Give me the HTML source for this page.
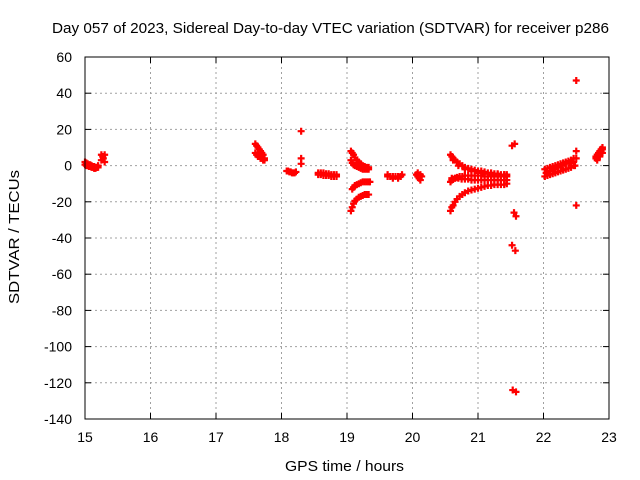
<!DOCTYPE html>
<html><head><meta charset="utf-8"><style>
body{margin:0;background:#fff}
svg{display:block;font-family:"Liberation Sans",sans-serif;font-size:14px}
</style></head><body>
<svg id="chart" width="640" height="480">
<text x="52" y="33" font-size="15" textLength="557" lengthAdjust="spacingAndGlyphs">Day 057 of 2023, Sidereal Day-to-day VTEC variation (SDTVAR) for receiver p286</text>
<text x="285" y="471" font-size="15" textLength="119" lengthAdjust="spacingAndGlyphs">GPS time / hours</text>
<text transform="translate(19,304) rotate(-90)" font-size="15" textLength="134" lengthAdjust="spacingAndGlyphs">SDTVAR / TECUs</text>
<g id="grid"></g><g id="ticks"></g><g id="marks"></g>
<rect x="85" y="57" width="524" height="362" fill="none" stroke="#000" stroke-width="1"/>
</svg>
<script>
const xTicks=[15,16,17,18,19,20,21,22,23];
const yTicks=[60,40,20,0,-20,-40,-60,-80,-100,-120,-140];
const times=[
15.00,15.02,15.04,15.06,15.08,15.10,15.12,15.14,15.16,15.18,15.20,
15.00,15.02,15.04,15.06,15.08,15.10,15.12,15.14,15.16,15.18,15.20,
15.25,15.25,15.27,15.30,15.30,15.28,
17.60,17.62,17.64,17.66,17.68,17.70,17.72,17.74,
17.60,17.62,17.64,17.66,17.68,17.70,17.72,17.74,
18.30,18.30,18.30,
18.08,18.10,18.12,18.14,18.16,18.18,18.20,18.22,
18.56,18.60,18.64,18.68,18.72,18.76,18.80,18.84,
18.56,18.60,18.64,18.68,18.72,18.76,18.80,18.84,
19.06,19.08,19.10,19.12,19.15,19.18,19.21,19.24,19.27,19.30,19.33,
19.06,19.08,19.10,19.12,19.15,19.18,19.21,19.24,19.27,19.30,19.33,
19.08,19.10,19.12,19.15,19.18,19.21,19.24,19.27,19.30,19.33,19.35,
19.06,19.08,19.10,19.12,19.15,19.18,19.21,19.24,19.27,19.30,19.33,
19.62,19.66,19.70,19.74,19.78,19.82,19.62,19.70,19.78,19.84,
20.06,20.08,20.10,20.12,20.14,20.08,20.12,
20.58,20.60,20.62,20.65,20.68,20.72,20.76,20.80,20.85,20.90,20.95,21.00,21.05,21.10,21.15,21.20,21.25,21.30,21.35,21.40,21.44,
20.58,20.60,20.62,20.65,20.68,20.72,20.76,20.80,20.85,20.90,20.95,21.00,21.05,21.10,21.15,21.20,21.25,21.30,21.35,21.40,21.44,
20.60,20.65,20.70,20.75,20.80,20.85,20.90,20.95,21.00,21.05,21.10,21.15,21.20,21.25,21.30,21.35,21.40,21.44,
20.58,20.60,20.62,20.65,20.68,20.72,20.76,20.80,20.85,20.90,20.95,21.00,21.05,21.10,21.15,21.20,21.25,21.30,21.35,21.40,21.44,
20.62,20.70,20.80,20.90,21.00,21.10,21.20,21.30,21.40,
21.52,21.56,21.55,21.58,21.52,21.57,21.53,21.58,
22.02,22.06,22.10,22.14,22.18,22.22,22.26,22.30,22.34,22.38,22.42,22.46,
22.02,22.06,22.10,22.14,22.18,22.22,22.26,22.30,22.34,22.38,22.42,22.46,
22.04,22.10,22.16,22.22,22.28,22.34,22.40,22.46,
22.50,22.50,22.50,22.48,22.50,
22.80,22.82,22.84,22.86,22.88,22.90,22.80,22.82,22.84,22.86,22.88,22.90,22.82,22.86,22.90
];
const values=[
2,1.5,1,0.5,0.5,0,-0.5,-0.5,-1,-1,-1,
0.5,0,0,-0.5,-0.5,-1,-1,-1.5,-1.5,-1,0,
6,3,5,6,2,4,
12,11,10,9,8,7,6,4,
7,6,5,5,4,4,3,3,
19,4,1,
-3,-3,-3.5,-3.5,-4,-4,-4,-3.5,
-4,-4,-4,-4.5,-4.5,-5,-5,-5,
-5,-5,-5.5,-5.5,-5.5,-6,-6,-6,
8,7,6,4.5,3,2,1,0,-0.5,-1,-1,
3,1.5,0.5,0,-0.5,-1,-1.5,-2,-2,-2,-2,
-13,-12,-11,-10.5,-10,-9.5,-9,-9,-9,-9,-9,
-25,-23,-21,-19.5,-18.5,-17.5,-17,-16.5,-16,-16,-16,
-6,-6,-6,-6,-6,-6,-5,-7,-7,-5,
-5,-6,-7,-5,-6,-4,-8,
6,5,4,3,2,1,0,-1,-1.5,-2,-2.5,-3,-3,-3.5,-4,-4,-4.5,-4.5,-5,-5,-5,
-9,-8,-7.5,-7,-6.5,-6,-6,-5.5,-5.5,-5.5,-5.5,-5.5,-5.5,-6,-6,-6,-6,-6,-6,-6,-6,
-7,-7,-7,-7.5,-7.5,-7.5,-8,-8,-8,-8,-8,-8,-8,-8,-8,-8,-8,-8,
-25,-23,-22,-20,-18.5,-17,-16,-15,-14,-13.5,-13,-12.5,-12,-11.5,-11,-11,-10.5,-10.5,-10.5,-10.5,-10,
3,0,-2,-3,-4,-4.5,-5,-5,-5,
11,12,-26,-28,-44,-47,-124,-125,
-2,-1.5,-1,-0.5,0,0.5,1,1.5,2,2.5,3,4,
-6,-5.5,-5,-4.5,-4,-3.5,-3,-2.5,-2,-1.5,-1,0,
-4,-3,-2,-1,0,1,1.5,2,
47,8,-22,0,4,
4,5,6,7,8,9,5,6,7,8,9,10,3,5,7
];
const X0=85,X1=609,Y0=419,Y1=57;
function sx(t){return X0+(t-15)/(23-15)*(X1-X0);}
function sy(v){return Y0-(v+140)/(60+140)*(Y0-Y1);}
const NS='http://www.w3.org/2000/svg';
const grid=document.getElementById('grid'),ticks=document.getElementById('ticks'),marks=document.getElementById('marks');
function mk(tag,attrs,parent){const e=document.createElementNS(NS,tag);for(const k in attrs)e.setAttribute(k,attrs[k]);parent.appendChild(e);return e;}
xTicks.forEach(t=>{
 const x=sx(t);
 if(t>15&&t<23){const g=mk('line',{x1:x,x2:x,y1:Y1,y2:Y0,stroke:'#a0a0a0','stroke-dasharray':'2,3'},grid);
 
 }
 mk('line',{x1:x,x2:x,y1:Y0,y2:Y0-6,stroke:'#000'},ticks);
 mk('line',{x1:x,x2:x,y1:Y1,y2:Y1+6,stroke:'#000'},ticks);
 const l=mk('text',{x:x,y:442,'text-anchor':'middle'},ticks);l.textContent=t;
 
 
});
yTicks.forEach(v=>{
 const y=sy(v);
 if(v>-140&&v<60){const g=mk('line',{x1:X0,x2:X1,y1:y,y2:y,stroke:'#a0a0a0','stroke-dasharray':'2,3'},grid);
 
 }
 mk('line',{x1:X0,x2:X0+6,y1:y,y2:y,stroke:'#000'},ticks);
 mk('line',{x1:X1,x2:X1-6,y1:y,y2:y,stroke:'#000'},ticks);
 const l=mk('text',{x:72,y:y+5,'text-anchor':'end'},ticks);l.textContent=v;
 
 
});
times.forEach((t,i)=>{
 const x=sx(t),y=sy(values[i]);
 const p=mk('path',{d:`M${x-3.5} ${y}H${x+3.5}M${x} ${y-3.5}V${y+3.5}`,stroke:'#ff0000','stroke-width':2.2,fill:'none'},marks);
 
 
});
</script>
</body></html>
